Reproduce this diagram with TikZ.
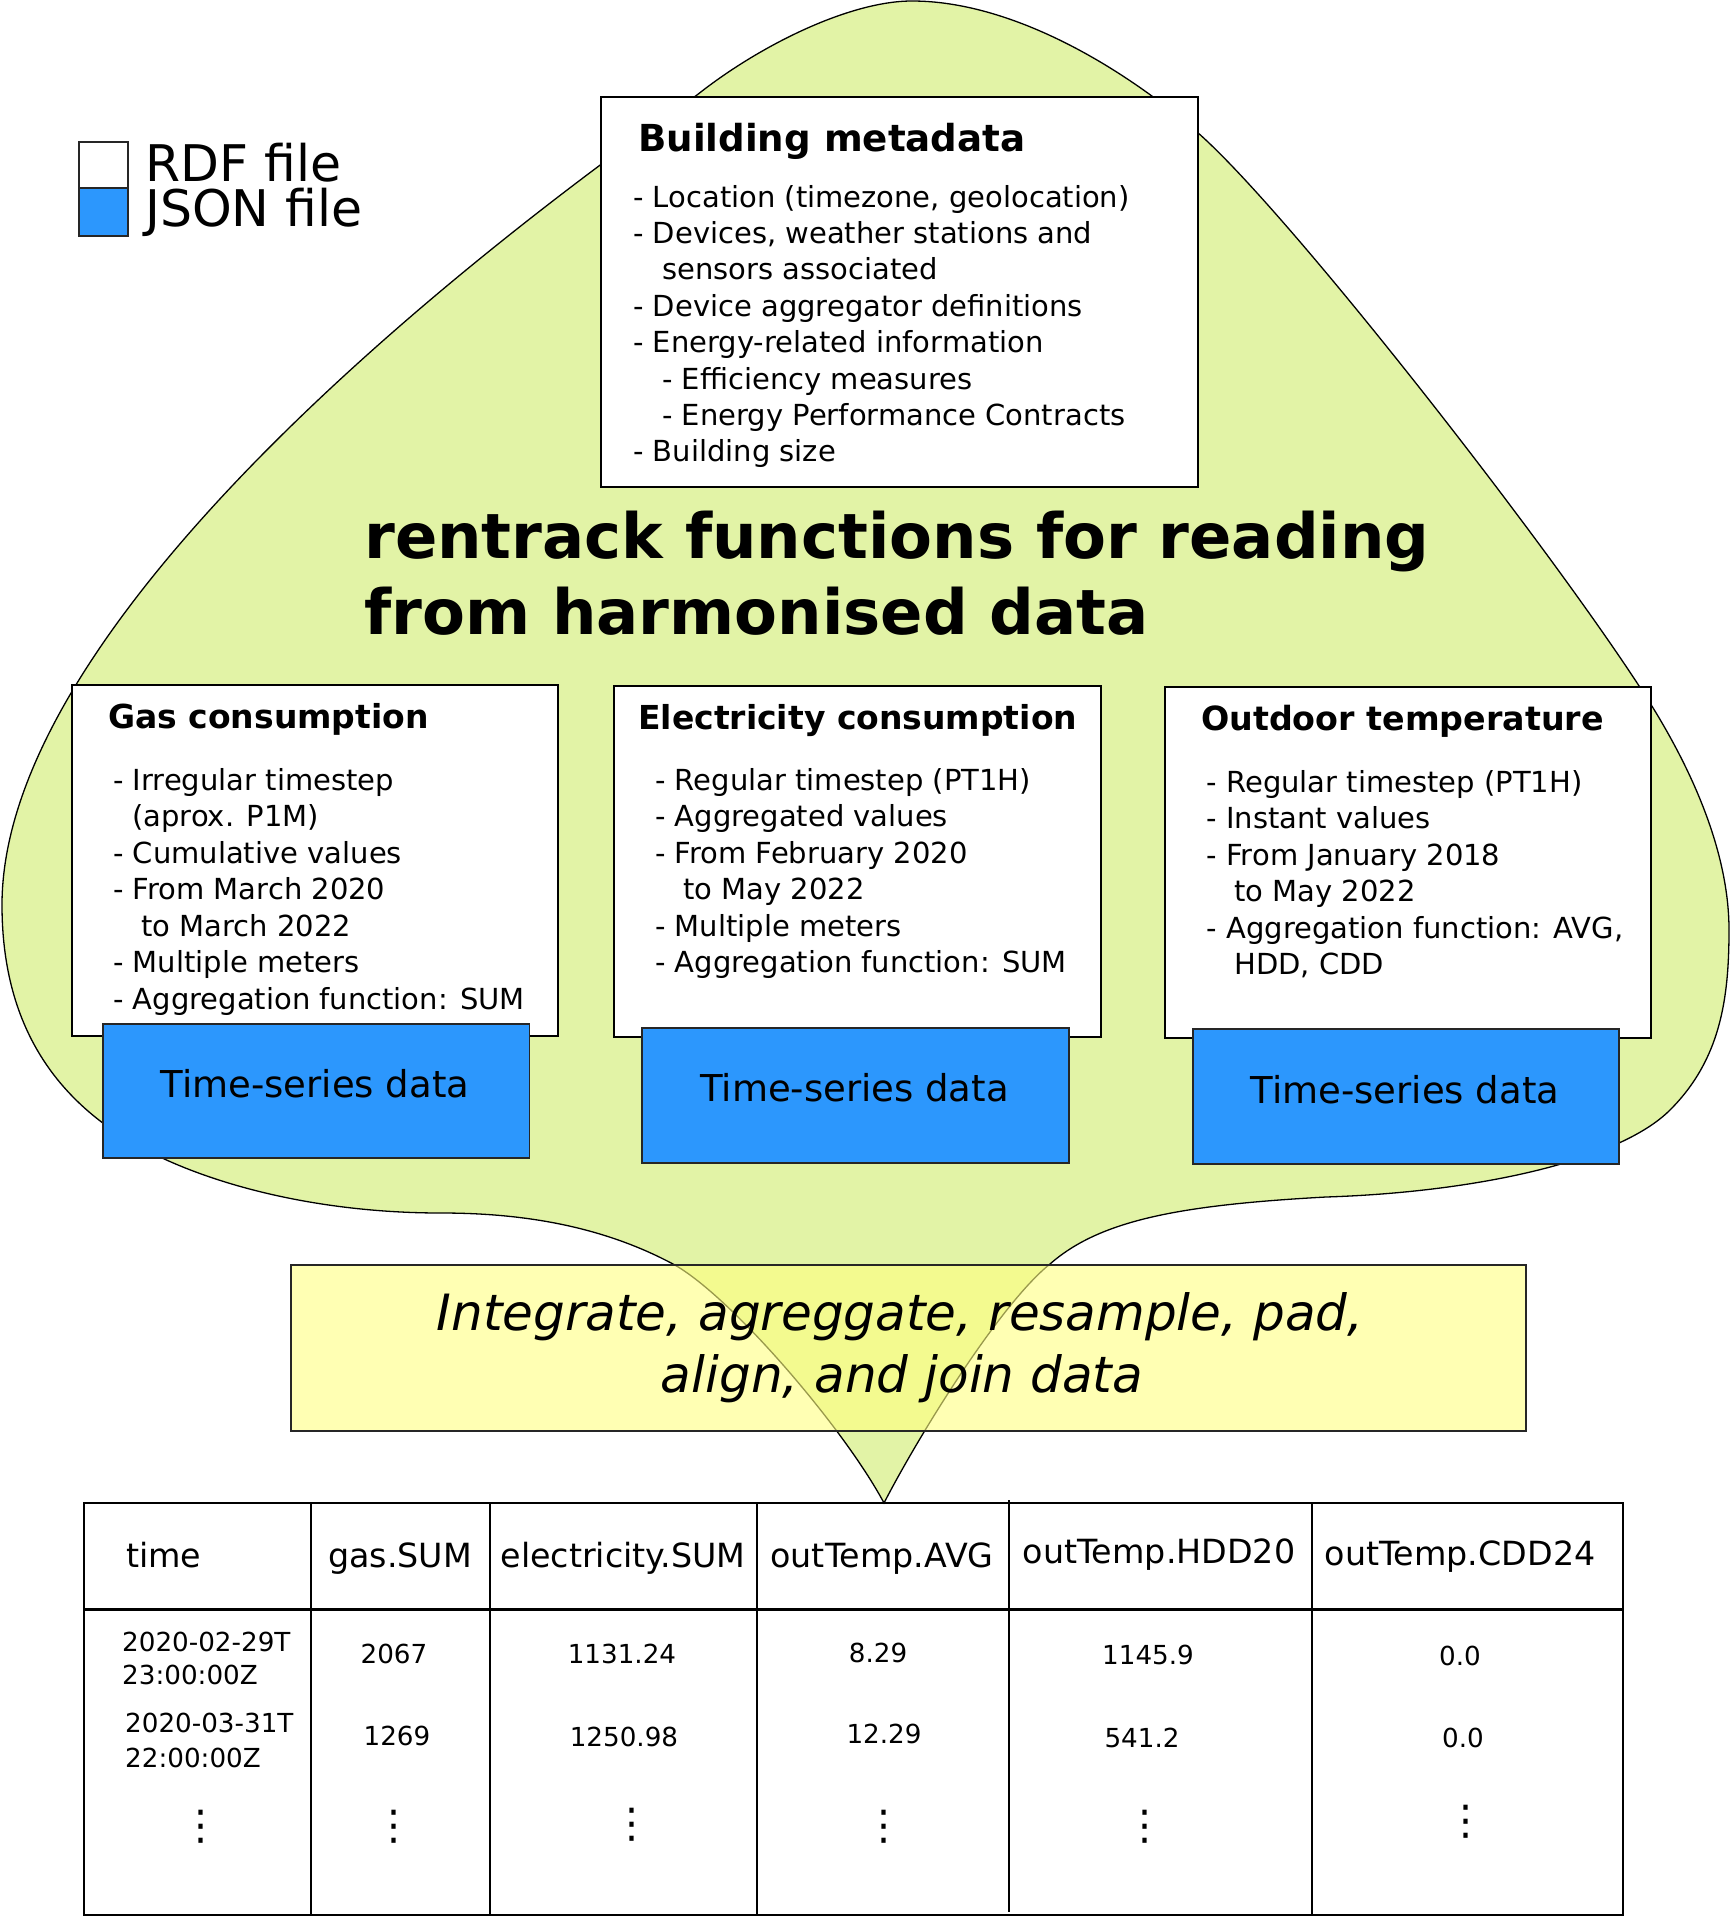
\documentclass[tikz,border=0pt]{standalone}
\usepackage{fontspec}
\setmainfont{DejaVu Sans}
\definecolor{blobgreen}{RGB}{226,243,166}
\definecolor{tsblue}{RGB}{44,151,253}
\definecolor{ybox}{RGB}{255,255,128}
\begin{document}
\begin{tikzpicture}[x=1pt,y=-1pt,
  box/.style={draw=black, line width=2pt, fill=white, inner sep=0pt, anchor=north west},
  tsbox/.style={draw=black!85, line width=1.6pt, fill=tsblue, inner sep=0pt, anchor=north west},
  itm/.style={anchor=base west, inner sep=0pt, font=\fontsize{29}{35}\selectfont},
  mitm/.style={anchor=base west, inner sep=0pt, font=\fontsize{29}{35}\selectfont},
  hd/.style={anchor=base west, inner sep=0pt, font=\bfseries\fontsize{33}{40}\selectfont},
  tstxt/.style={anchor=base, inner sep=0pt, font=\fontsize{37}{44}\selectfont},
  th/.style={anchor=base, inner sep=0pt, font=\fontsize{33.3}{38}\selectfont},
  td/.style={anchor=base, inner sep=0pt, font=\fontsize{26.2}{30}\selectfont},
  tdl/.style={anchor=base west, inner sep=0pt, font=\fontsize{26.2}{30}\selectfont},
  vd/.style={inner sep=0pt, font=\fontsize{41}{44}\selectfont},
  legtxt/.style={anchor=base west, inner sep=0pt, font=\fontsize{50.5}{52}\selectfont},
]
\useasboundingbox (0,0) rectangle (1730,1916);

% green blob
\draw[fill=blobgreen, draw=black, line width=1.3pt]
  (912,1) .. controls (1010,1) and (1120,65) .. (1197,132)
  .. controls (1290,213) and (1560,560) .. (1650,703)
  .. controls (1690,767) and (1729,850) .. (1729,930)
  .. controls (1729,1000) and (1720,1060) .. (1670,1110)
  .. controls (1620,1160) and (1480,1192) .. (1326,1197)
  .. controls (1180,1205) and (1100,1220) .. (1050,1264)
  .. controls (1000,1304) and (919,1435) .. (884,1503)
  .. controls (844,1428) and (730,1295) .. (673,1264)
  .. controls (600,1225) and (520,1213) .. (441,1213)
  .. controls (330,1213) and (230,1190) .. (160,1157)
  .. controls (60,1110) and (2,1030) .. (2,905)
  .. controls (2,630) and (437,277) .. (697,95)
  .. controls (760,45) and (850,1) .. (912,1) -- cycle;

% legend
\node[draw=black!85, line width=1.6pt, fill=white, inner sep=0pt, anchor=north west,
  minimum width=49pt, minimum height=46pt] (rdfbox) at (78,141) {};
\node[draw=black!85, line width=1.6pt, fill=tsblue, inner sep=0pt, anchor=north west,
  minimum width=49pt, minimum height=48pt] (jsonbox) at (78,187) {};
\node[legtxt] (rdftxt) at (145,181) {RDF file};
\node[legtxt] (jsontxt) at (145,226) {JSON file};

% building metadata
\node[box, minimum width=597pt, minimum height=390pt] (meta) at (600,96) {};
\node[anchor=base west, inner sep=0pt, font=\bfseries\fontsize{37.2}{44}\selectfont] (metat) at (638,151) {Building metadata};
\node[mitm] (m0) at (633,207) {- Location (timezone, geolocation)};
\node[mitm] (m1) at (633,243.4) {- Devices, weather stations and};
\node[mitm] (m2) at (662,279.8) {sensors associated};
\node[mitm] (m3) at (633,316.2) {- Device aggregator definitions};
\node[mitm] (m4) at (633,352.6) {- Energy-related information};
\node[mitm] (m5) at (662,389) {- Efficiency measures};
\node[mitm] (m6) at (662,425.4) {- Energy Performance Contracts};
\node[mitm] (m7) at (633,461.8) {- Building size};

% title
\node[anchor=base west, inner sep=0pt, font=\bfseries\fontsize{62.5}{76}\selectfont] (title1) at (364,558) {rentrack functions for reading};
\node[anchor=base west, inner sep=0pt, font=\bfseries\fontsize{62.5}{76}\selectfont] (title2) at (364,634) {from harmonised data};

% gas
\node[box, minimum width=486pt, minimum height=351pt] (gas) at (71,684) {};
\node[hd] (gast) at (108,728) {Gas consumption};
\node[itm] (g0) at (113,790) {- Irregular timestep};
\node[itm] (g1) at (132,826.5) {(aprox. P1M)};
\node[itm] (g2) at (113,863) {- Cumulative values};
\node[itm] (g3) at (113,899.5) {- From March 2020};
\node[itm] (g4) at (141,936) {to March 2022};
\node[itm] (g5) at (113,972.5) {- Multiple meters};
\node[itm] (g6) at (113,1009) {- Aggregation function: SUM};
\node[tsbox, minimum width=426.5pt, minimum height=134pt] (gasts) at (102,1023) {};
\node[tstxt] (gastst) at (315,1097) {Time-series data};

% electricity
\node[box, minimum width=487pt, minimum height=351pt] (el) at (613,685) {};
\node[hd] (elt) at (638,729) {Electricity consumption};
\node[itm] (e0) at (655,790) {- Regular timestep (PT1H)};
\node[itm] (e1) at (655,826.5) {- Aggregated values};
\node[itm] (e2) at (655,863) {- From February 2020};
\node[itm] (e3) at (683,899.5) {to May 2022};
\node[itm] (e4) at (655,936) {- Multiple meters};
\node[itm] (e5) at (655,972.5) {- Aggregation function: SUM};
\node[tsbox, minimum width=427pt, minimum height=135pt] (elts) at (641,1027) {};
\node[tstxt] (eltst) at (854.5,1101) {Time-series data};

% outdoor temperature
\node[box, minimum width=486pt, minimum height=351pt] (ot) at (1164,686) {};
\node[hd, font=\bfseries\fontsize{33.3}{40}\selectfont] (ott) at (1201,730) {Outdoor temperature};
\node[itm] (o0) at (1206.5,792) {- Regular timestep (PT1H)};
\node[itm] (o1) at (1206.5,828.5) {- Instant values};
\node[itm] (o2) at (1206.5,865) {- From January 2018};
\node[itm] (o3) at (1234,901.5) {to May 2022};
\node[itm] (o4) at (1206.5,938) {- Aggregation function: AVG,};
\node[itm] (o5) at (1234,974.5) {HDD, CDD};
\node[tsbox, minimum width=426pt, minimum height=135pt] (otts) at (1192,1028) {};
\node[tstxt] (ottst) at (1405,1103) {Time-series data};

% process box
\node[draw=black!85, line width=2pt, fill=ybox, fill opacity=0.6, draw opacity=1,
  inner sep=0pt, anchor=north west, minimum width=1235pt, minimum height=166pt] (proc) at (290,1264) {};
\node[anchor=base, inner sep=0pt, font=\itshape\fontsize{50}{60}\selectfont] (proc1) at (900,1330) {Integrate, agreggate, resample, pad,};
\node[anchor=base, inner sep=0pt, font=\itshape\fontsize{50}{60}\selectfont] (proc2) at (902,1392) {align, and join data};

% table
\coordinate (tTL) at (84,1503);
\coordinate (tBR) at (1623,1915);
\draw[line width=2pt] (tTL) rectangle (tBR);
\draw[line width=3pt] (84,1609) -- (1623,1609);
\foreach \cx in {311,490,757,1312} \draw[line width=1.6pt] (\cx,1503) -- (\cx,1915);
\draw[line width=1.6pt] (1009,1500) -- (1009,1912);

\node[th, anchor=base west] (h0) at (126,1567) {time};
\node[th] (h1) at (400,1567) {gas.SUM};
\node[th] (h2) at (623,1567) {electricity.SUM};
\node[th] (h3) at (882,1567) {outTemp.AVG};
\node[th] (h4) at (1159,1563) {outTemp.HDD20};
\node[th] (h5) at (1460,1565) {outTemp.CDD24};

\node[tdl] (t1a) at (122,1651) {2020-02-29T};
\node[tdl] (t1b) at (122,1684) {23:00:00Z};
\node[tdl] (t2a) at (125,1732) {2020-03-31T};
\node[tdl] (t2b) at (125,1767) {22:00:00Z};
\node[td] (d11) at (394,1663) {2067};
\node[td] (d21) at (397,1745) {1269};
\node[td] (d12) at (622,1663) {1131.24};
\node[td] (d22) at (624,1746) {1250.98};
\node[td] (d13) at (878,1662) {8.29};
\node[td] (d23) at (884,1743) {12.29};
\node[td] (d14) at (1148,1664) {1145.9};
\node[td] (d24) at (1142,1747) {541.2};
\node[td] (d15) at (1460,1665) {0.0};
\node[td] (d25) at (1463,1747) {0.0};

\node[vd] (v0) at (201,1827) {⋮};
\node[vd] (v1) at (394,1827) {⋮};
\node[vd] (v2) at (632,1825) {⋮};
\node[vd] (v3) at (884,1827) {⋮};
\node[vd] (v4) at (1145,1827) {⋮};
\node[vd] (v5) at (1466,1822) {⋮};
\end{tikzpicture}
\end{document}
